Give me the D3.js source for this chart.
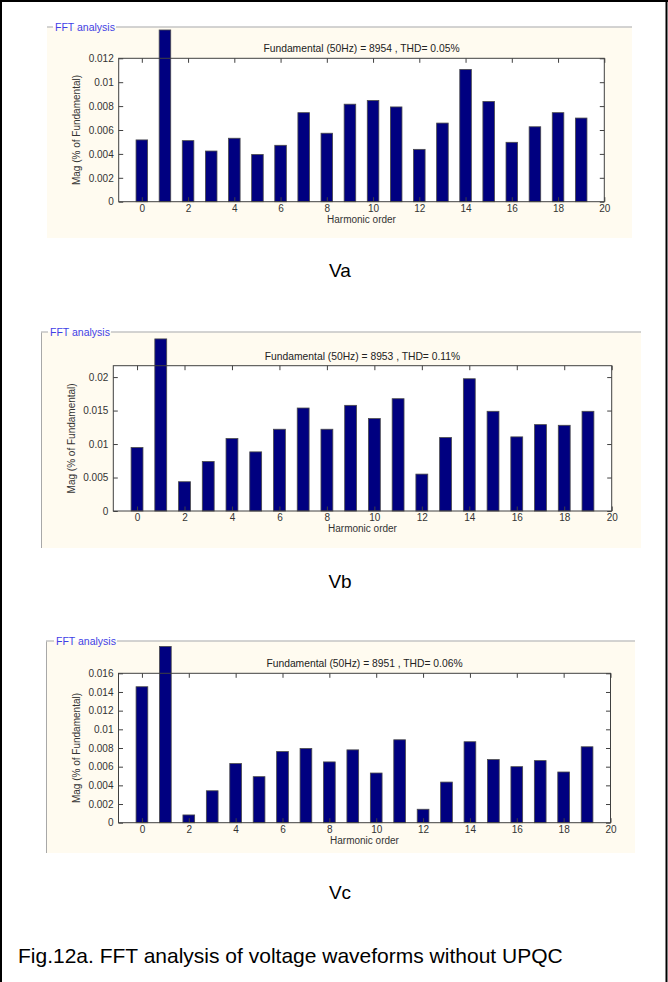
<!DOCTYPE html>
<html><head><meta charset="utf-8">
<script src="https://cdn.jsdelivr.net/npm/d3@7"></script>
<style>body{margin:0;background:#fff}svg{display:block}</style>
</head><body>
<svg id="c" width="668" height="982"></svg>
<script>
// ---- data ----
const harmonicOrder = [0,1,2,3,4,5,6,7,8,9,10,11,12,13,14,15,16,17,18,19];
const vaMag = [0.00517,0.01437,0.00511,0.00424,0.00531,0.00395,0.00472,0.00745,0.00573,0.00816,0.00847,0.00793,0.00438,0.00658,0.01107,0.00839,0.00497,0.00627,0.00745,0.00700];
const vbMag = [0.00948,0.0257,0.00437,0.0074,0.01082,0.00883,0.01221,0.01538,0.01221,0.01578,0.0138,0.01677,0.00551,0.01097,0.01975,0.01489,0.01107,0.0129,0.0128,0.01489];
const vcMag = [0.01456,0.01888,0.00083,0.00342,0.00633,0.00493,0.00762,0.00795,0.00651,0.0078,0.00532,0.00888,0.00144,0.00435,0.00867,0.00676,0.006,0.00665,0.00543,0.00813];
const xTicks = [0,2,4,6,8,10,12,14,16,18,20];
const xTickLabels = ["0","2","4","6","8","10","12","14","16","18","20"];
const yTicksA = [0,0.002,0.004,0.006,0.008,0.01,0.012];
const yTickLabelsA = ["0","0.002","0.004","0.006","0.008","0.01","0.012"];
const yTicksB = [0,0.005,0.01,0.015,0.02];
const yTickLabelsB = ["0","0.005","0.01","0.015","0.02"];
const yTicksC = [0,0.002,0.004,0.006,0.008,0.01,0.012,0.014,0.016];
const yTickLabelsC = ["0","0.002","0.004","0.006","0.008","0.01","0.012","0.014","0.016"];
const titles = ["Fundamental (50Hz) = 8954 , THD= 0.05%","Fundamental (50Hz) = 8953 , THD= 0.11%","Fundamental (50Hz) = 8951 , THD= 0.06%"];
const phaseLabels = ["Va","Vb","Vc"];
const yMax = [0.012, 0.0217, 0.016];
const xDomain = [-1, 20];
const panelHeader = "FFT analysis";
const xLabel = "Harmonic order";
const yLabel = "Mag (% of Fundamental)";
const caption = "Fig.12a. FFT analysis of voltage waveforms without UPQC";

// ---- layout ----
const FONT = "'Liberation Sans', Arial, sans-serif";
const svg = d3.select("#c");
const panels = [
  {fl:47, fr:632, ft:27, fb:238, border:false, hx:55, ax:{l:118.7,r:604.3,t:58.3,b:201.7}, lab:277,
   values:vaMag, yt:yTicksA, ytl:yTickLabelsA},
  {fl:41, fr:641, ft:332, fb:548, border:true, hx:50, ax:{l:113.3,r:611.7,t:365.7,b:511}, lab:588,
   values:vbMag, yt:yTicksB, ytl:yTickLabelsB},
  {fl:46, fr:635, ft:641, fb:853, border:true, hx:56, ax:{l:118.5,r:610.5,t:673.3,b:822.7}, lab:899,
   values:vcMag, yt:yTicksC, ytl:yTickLabelsC}
];

// page frame
svg.append("rect").attr("x",0).attr("y",0).attr("width",668).attr("height",982).attr("fill","#fff");
svg.append("line").attr("x1",0).attr("x2",668).attr("y1",1).attr("y2",1).attr("stroke","#000").attr("stroke-width",2);
svg.append("line").attr("x1",1).attr("x2",1).attr("y1",0).attr("y2",982).attr("stroke","#000").attr("stroke-width",2);
svg.append("line").attr("x1",666.5).attr("x2",666.5).attr("y1",0).attr("y2",982).attr("stroke","#000").attr("stroke-width",2);

panels.forEach((p, i) => {
  const g = svg.append("g");
  // beige panel
  g.append("rect").attr("x",p.fl).attr("y",p.ft).attr("width",p.fr-p.fl).attr("height",p.fb-p.ft).attr("fill","#fffbf0");
  if (p.border) {
    g.append("line").attr("x1",p.fl+0.5).attr("x2",p.fl+0.5).attr("y1",p.ft).attr("y2",p.fb).attr("stroke","#a8a8a8").attr("stroke-width",1);
  }
  // header line with text
  const hdr = g.append("text").attr("x",p.hx).attr("y",p.ft+3.5).attr("font-family",FONT).attr("font-size",10.5)
    .attr("fill","#3f3fe6").text(panelHeader);
  const tw = hdr.node().getComputedTextLength();
  g.insert("line","text").attr("x1",p.fl).attr("x2",p.hx-2).attr("y1",p.ft).attr("y2",p.ft).attr("stroke","#c4c4c4").attr("stroke-width",1.5);
  g.insert("line","text").attr("x1",p.hx+tw+1).attr("x2",p.fr).attr("y1",p.ft).attr("y2",p.ft).attr("stroke","#c4c4c4").attr("stroke-width",1.5);

  const a = p.ax;
  const x = d3.scaleLinear().domain(xDomain).range([a.l, a.r]);
  const y = d3.scaleLinear().domain([0, yMax[i]]).range([a.b, a.t]);

  // axes background
  g.append("rect").attr("x",a.l).attr("y",a.t).attr("width",a.r-a.l).attr("height",a.b-a.t).attr("fill","#fff");

  // bars
  const bw = x(0.5) - x(0);
  g.append("g").selectAll("rect").data(harmonicOrder).join("rect")
    .attr("x", d => x(d) - bw/2)
    .attr("width", bw)
    .attr("y", (d, k) => y(p.values[k]))
    .attr("height", (d, k) => y(0) - y(p.values[k]))
    .attr("fill", "#000080")
    .attr("stroke", "#4a4a4a")
    .attr("stroke-width", 0.8);

  const TL = 4.5, AX = "#404040";
  const styleAxis = sel => {
    sel.select(".domain").remove();
    sel.selectAll(".tick line").attr("stroke", AX);
    sel.selectAll(".tick text").attr("fill", "#333").attr("font-family", FONT).attr("font-size", 10);
  };
  g.append("g").attr("transform",`translate(0,${a.b})`)
    .call(d3.axisBottom(x).tickValues(xTicks).tickFormat((d,k)=>xTickLabels[k]).tickSizeInner(-TL).tickSizeOuter(0).tickPadding(3))
    .call(styleAxis);
  g.append("g").attr("transform",`translate(0,${a.t})`)
    .call(d3.axisTop(x).tickValues(xTicks).tickFormat("").tickSizeInner(-TL).tickSizeOuter(0))
    .call(styleAxis);
  g.append("g").attr("transform",`translate(${a.l},0)`)
    .call(d3.axisLeft(y).tickValues(p.yt).tickFormat((d,k)=>p.ytl[k]).tickSizeInner(-TL).tickSizeOuter(0).tickPadding(5))
    .call(styleAxis);
  g.append("g").attr("transform",`translate(${a.r},0)`)
    .call(d3.axisRight(y).tickValues(p.yt).tickFormat("").tickSizeInner(-TL).tickSizeOuter(0))
    .call(styleAxis);

  // box
  g.append("rect").attr("x",a.l).attr("y",a.t).attr("width",a.r-a.l).attr("height",a.b-a.t)
    .attr("fill","none").attr("stroke",AX).attr("stroke-width",1);

  // title
  g.append("text").attr("x",(a.l+a.r)/2).attr("y",a.t-6).attr("text-anchor","middle")
    .attr("font-family",FONT).attr("font-size",10.3).attr("fill","#222").text(titles[i]);
  // x label
  g.append("text").attr("x",(a.l+a.r)/2).attr("y",a.b+21).attr("text-anchor","middle")
    .attr("font-family",FONT).attr("font-size",10).attr("fill","#333").text(xLabel);
  // y label
  g.append("text").attr("transform",`translate(${a.l-42},${(a.t+a.b)/2}) rotate(-90)`)
    .attr("text-anchor","middle").attr("dy","0.35em")
    .attr("font-family",FONT).attr("font-size",10).attr("fill","#333").text(yLabel);

  // phase label
  svg.append("text").attr("x",340).attr("y",p.lab).attr("text-anchor","middle")
    .attr("font-family",FONT).attr("font-size",19).attr("fill","#000").text(phaseLabels[i]);
});

svg.append("text").attr("x",18).attr("y",963).attr("font-family",FONT).attr("font-size",21)
  .attr("fill","#000").text(caption);
</script>
</body></html>
